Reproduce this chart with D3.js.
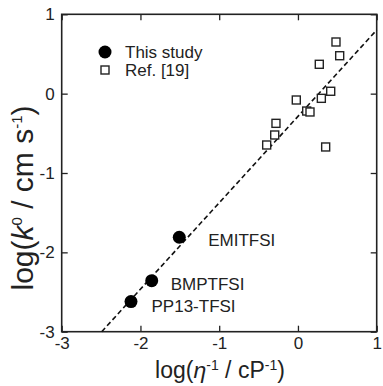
<!DOCTYPE html>
<html>
<head>
<meta charset="utf-8">
<script src="https://cdn.jsdelivr.net/npm/d3@7"></script>
<style>
  body { margin: 0; background: #fff; }
  text { font-family: "Liberation Sans", Arial, sans-serif; fill: #222; }
</style>
</head>
<body>
<script>
// data
let studyNames = ["EMITFSI", "BMPTFSI", "PP13-TFSI"];
let studyX = [-1.507, -1.857, -2.12];
let studyY = [-1.81, -2.357, -2.62];

let refX = [0.483, 0.530, 0.271, 0.416, 0.297, -0.021, 0.111, 0.153, -0.279, -0.295, -0.397, 0.352];
let refY = [0.651, 0.478, 0.370, 0.030, -0.059, -0.080, -0.219, -0.231, -0.374, -0.521, -0.647, -0.672];

let fitX = [-2.492, 1];
let fitY = [-3, 0.802];

let xTicks = [-3, -2, -1, 0, 1];
let yTicks = [-3, -2, -1, 0, 1];

// dimensions
let W = 383, H = 386;
let margin = {top: 14.3, right: 6.3, bottom: 54.3, left: 61.7},
width = W - margin.left - margin.right,
height = H - margin.top - margin.bottom;

let x = d3.scaleLinear().domain([-3, 1]).range([0, width]);
let y = d3.scaleLinear().domain([-3, 1]).range([height, 0]);

let svg = d3.select("body").append("svg")
  .attr("width", W)
  .attr("height", H)
.append("g")
  .attr("transform", "translate(" + margin.left + "," + margin.top + ")");

// axes with inward ticks
let fontSize = "17px";
let gx = svg.append("g")
  .attr("transform", "translate(0," + height + ")")
  .call(d3.axisBottom(x).tickValues(xTicks).tickSizeInner(-6).tickSizeOuter(0).tickPadding(5));
let gy = svg.append("g")
  .call(d3.axisLeft(y).tickValues(yTicks).tickSizeInner(-6).tickSizeOuter(0).tickPadding(7));
let gt = svg.append("g")
  .call(d3.axisTop(x).tickValues(xTicks).tickSizeInner(-6).tickSizeOuter(0).tickFormat(""));
let gr = svg.append("g")
  .attr("transform", "translate(" + width + ",0)")
  .call(d3.axisRight(y).tickValues(yTicks).tickSizeInner(-6).tickSizeOuter(0).tickFormat(""));

[gx, gy, gt, gr].forEach(function(g) {
  g.select(".domain").remove();
  g.selectAll(".tick line").attr("stroke", "#222").attr("stroke-width", 1.3);
  g.selectAll(".tick text").style("font-size", fontSize).attr("fill", "#222")
    .style("font-family", "'Liberation Sans', Arial, sans-serif");
});
gx.selectAll(".tick text").text(function(d) { return d; });
gy.selectAll(".tick text").text(function(d) { return d; });

// frame
svg.append("rect")
  .attr("width", width)
  .attr("height", height)
  .attr("fill", "none")
  .attr("stroke", "#222")
  .attr("stroke-width", 1.6);

// dashed fit line
let line = d3.line()
  .x(function(d) { return x(d[0]); })
  .y(function(d) { return y(d[1]); });
svg.append("path")
  .datum(d3.zip(fitX, fitY))
  .attr("d", line)
  .attr("fill", "none")
  .attr("stroke", "#111")
  .attr("stroke-width", 1.6)
  .attr("stroke-dasharray", "5,3");

// reference squares
let sq = 8;
svg.selectAll(".ref")
  .data(d3.zip(refX, refY))
  .enter().append("rect")
  .attr("class", "ref")
  .attr("x", function(d) { return x(d[0]) - sq / 2; })
  .attr("y", function(d) { return y(d[1]) - sq / 2; })
  .attr("width", sq)
  .attr("height", sq)
  .attr("fill", "#fff")
  .attr("stroke", "#222")
  .attr("stroke-width", 1.4);

// this study circles
svg.selectAll(".study")
  .data(d3.zip(studyX, studyY))
  .enter().append("circle")
  .attr("class", "study")
  .attr("cx", function(d) { return x(d[0]); })
  .attr("cy", function(d) { return y(d[1]); })
  .attr("r", 6.5)
  .attr("fill", "#000");

// point labels
let labelOffset = [[29, 9], [19, 9.5], [20.5, 10.5]];
svg.selectAll(".lbl")
  .data(studyNames)
  .enter().append("text")
  .attr("class", "lbl")
  .attr("x", function(d, i) { return x(studyX[i]) + labelOffset[i][0]; })
  .attr("y", function(d, i) { return y(studyY[i]) + labelOffset[i][1]; })
  .style("font-size", fontSize)
  .text(function(d) { return d; });

// legend
let leg = svg.append("g").attr("transform", "translate(" + (105 - margin.left) + "," + (52 - margin.top) + ")");
leg.append("circle").attr("r", 6.5).attr("fill", "#000");
leg.append("text").attr("x", 20).attr("y", 5.5).style("font-size", fontSize).text("This study");
leg.append("rect").attr("x", -4).attr("y", 14).attr("width", sq).attr("height", sq)
  .attr("fill", "#fff").attr("stroke", "#222").attr("stroke-width", 1.4);
leg.append("text").attr("x", 20).attr("y", 23.5).style("font-size", fontSize).text("Ref. [19]");

// axis titles
let xt = svg.append("text")
  .attr("x", 220 - margin.left)
  .attr("y", 378 - margin.top)
  .attr("text-anchor", "middle")
  .style("font-size", "23px");
xt.append("tspan").text("log(");
xt.append("tspan").style("font-style", "italic").text("\u03b7");
xt.append("tspan").attr("dy", -8).style("font-size", "14px").text("-1");
xt.append("tspan").attr("dy", 8).text(" / cP");
xt.append("tspan").attr("dy", -8).style("font-size", "14px").text("-1");
xt.append("tspan").attr("dy", 8).text(")");

let yt = svg.append("text")
  .attr("transform", "translate(" + (33 - margin.left) + "," + (198 - margin.top) + ") rotate(-90)")
  .attr("text-anchor", "middle")
  .style("font-size", "30px");
yt.append("tspan").text("log(");
yt.append("tspan").style("font-style", "italic").text("k");
yt.append("tspan").attr("dy", -11).style("font-size", "15px").text("0");
yt.append("tspan").attr("dy", 11).text(" / cm s");
yt.append("tspan").attr("dy", -11).style("font-size", "15px").text("-1");
yt.append("tspan").attr("dy", 11).text(")");
</script>
</body>
</html>
